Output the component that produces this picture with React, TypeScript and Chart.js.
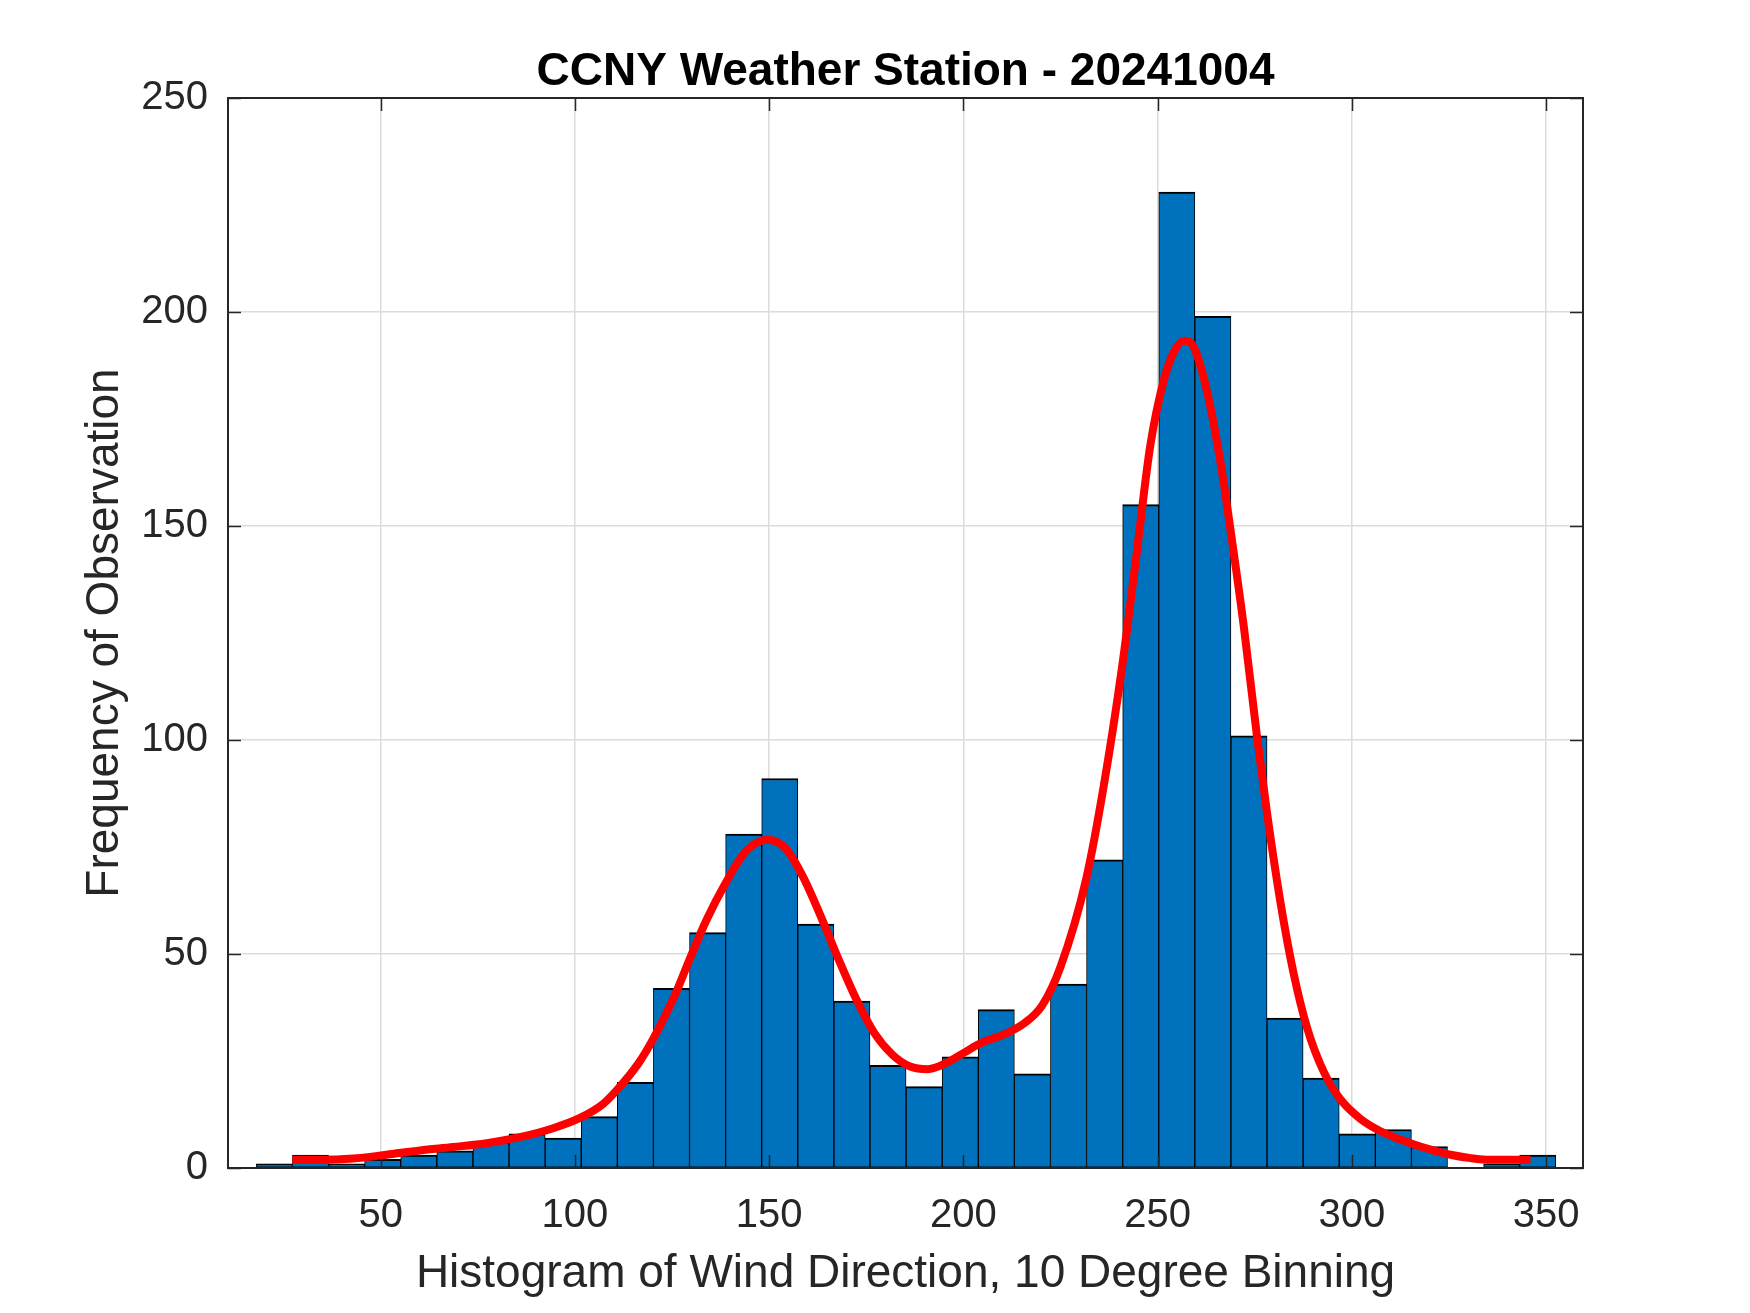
import React, { useEffect, useRef } from "react";
import { Chart, registerables } from "chart.js";

Chart.register(...registerables);

// Histogram bins (centres, degrees) and counts
const binCenters = [
  22.65, 31.94, 41.23, 50.52, 59.81, 69.1, 78.4, 87.69, 96.98, 106.27, 115.56, 124.85,
  134.15, 143.44, 152.73, 162.02, 171.31, 180.6, 189.9, 199.19, 208.48, 217.77, 227.06, 236.35,
  245.65, 254.94, 264.23, 273.52, 282.81, 292.1, 301.4, 310.69, 319.98, 329.27, 338.56, 347.85,
];
const binCounts = [
  1, 3, 1, 2, 3, 4, 6, 8, 7, 12, 20, 42,
  55, 78, 91, 57, 39, 24, 19, 26, 37, 22, 43, 72,
  155, 228, 199, 101, 35, 21, 8, 9, 5, 0, 1, 3,
];

// Smoothed density curve (red)
const fitX = [
  27.3, 34.3, 42.9, 51.5, 60.1, 68.7, 77.3, 85.8, 94.4, 101.3, 107.3, 110.9, 116.4, 120.3,
  125.6, 129.5, 133.9, 138.8, 144.0, 149.5, 154.1, 158.7, 163.3, 167.9, 172.5, 177.1, 181.7,
  186.3, 190.9, 195.5, 200.1, 204.7, 210.2, 215.8, 220.3, 225.0, 231.6, 236.1, 240.9, 244.7,
  248.1, 251.6, 254.1, 256.7, 259.3, 262.7, 266.2, 268.9, 272.2, 275.6, 278.2, 281.6, 285.0,
  288.5, 292.8, 297.1, 302.2, 307.4, 315.1, 320.3, 325.4, 330.6, 335.7, 340.9, 346.0,
];
const fitY = [
  1.9, 1.9, 2.2, 3.1, 4.1, 4.9, 5.8, 7.2, 9.3, 11.7, 15.0, 18.3, 24.5, 30.4,
  40.1, 48.7, 58.0, 66.6, 74.0, 76.7, 74.8, 68.1, 58.8, 48.7, 39.3, 31.5, 26.5,
  23.7, 23.1, 24.5, 26.9, 29.3, 31.1, 33.9, 38.0, 47.0, 67.5, 89.1, 117.4, 144.3,
  168.7, 184.1, 190.5, 193.3, 191.8, 181.5, 164.8, 148.2, 126.4, 100.7, 82.7, 62.2, 45.5,
  32.7, 22.4, 16.0, 11.5, 8.6, 5.8, 4.3, 3.1, 2.3, 1.9, 1.9, 1.9,
];

const xTicks = [50, 100, 150, 200, 250, 300, 350];
const yTicks = [0, 50, 100, 150, 200, 250];
const xRange = [10.7, 359.5];
const yRange = [0, 250];

const titleText = "CCNY Weather Station - 20241004";
const xLabel = "Histogram of Wind Direction, 10 Degree Binning";
const yLabel = "Frequency of Observation";

const FONT = '"Liberation Sans", Arial, Helvetica, sans-serif';
const AXIS_COLOR = "#262626";

const framePlugin = {
  id: "matlabFrame",
  afterDatasetDraw(chart: any, args: any) {
    if (args.index !== 0) return;
    const { ctx, chartArea } = chart;
    const { left, right, top, bottom } = chartArea;
    const xs = chart.scales.x;
    const ys = chart.scales.y;
    const tl = 13;
    ctx.save();
    ctx.strokeStyle = AXIS_COLOR;
    ctx.lineWidth = 1.5;
    ctx.beginPath();
    xTicks.forEach((v) => {
      const px = Math.round(xs.getPixelForValue(v)) + 0.5;
      ctx.moveTo(px, bottom);
      ctx.lineTo(px, bottom - tl);
      ctx.moveTo(px, top);
      ctx.lineTo(px, top + tl);
    });
    yTicks.forEach((v) => {
      const py = Math.round(ys.getPixelForValue(v)) + 0.5;
      ctx.moveTo(left, py);
      ctx.lineTo(left + tl, py);
      ctx.moveTo(right, py);
      ctx.lineTo(right - tl, py);
    });
    ctx.stroke();
    ctx.lineWidth = 2;
    ctx.strokeRect(left, top, right - left, bottom - top);
    ctx.restore();
  },
  afterDraw(chart: any) {
    const { ctx, chartArea } = chart;
    ctx.save();
    ctx.fillStyle = "#000000";
    ctx.font = `bold 46px ${FONT}`;
    ctx.textAlign = "center";
    ctx.textBaseline = "alphabetic";
    ctx.fillText(titleText, (chartArea.left + chartArea.right) / 2, 85);
    ctx.restore();
  },
};

export default function App() {
  const ref = useRef<HTMLCanvasElement>(null);

  useEffect(() => {
    const canvas = ref.current;
    if (!canvas) return;
    const chart = new Chart(canvas, {
      type: "bar",
      data: {
        datasets: [
          {
            type: "bar",
            data: binCenters.map((x, i) => ({ x, y: binCounts[i] })),
            backgroundColor: "#0072BD",
            borderColor: "#000000",
            borderWidth: { top: 2, left: 1, right: 1, bottom: 1 },
            borderSkipped: false,
            barPercentage: 1,
            categoryPercentage: 1,
            order: 1,
          } as any,
          {
            type: "line",
            data: fitX.map((x, i) => ({ x, y: fitY[i] })),
            borderColor: "#FF0000",
            borderWidth: 8,
            pointRadius: 0,
            fill: false,
            cubicInterpolationMode: "monotone",
            borderCapStyle: "butt",
            borderJoinStyle: "round",
            order: 0,
          } as any,
        ],
      },
      options: {
        responsive: false,
        animation: false,
        devicePixelRatio: 1,
        events: [],
        layout: { padding: { left: 0, top: 98, right: 167, bottom: 0 } },
        plugins: {
          legend: { display: false },
          tooltip: { enabled: false },
          title: { display: false },
        },
        scales: {
          x: {
            type: "linear",
            min: xRange[0],
            max: xRange[1],
            offset: false,
            afterBuildTicks: (s: any) => {
              s.ticks = xTicks.map((v) => ({ value: v }));
            },
            afterFit: (s: any) => {
              s.height = 145;
            },
            grid: { color: "#DCDCDC", lineWidth: 1.5, drawTicks: false, offset: false },
            border: { display: false },
            ticks: {
              autoSkip: false,
              maxRotation: 0,
              minRotation: 0,
              padding: 24,
              color: AXIS_COLOR,
              font: { size: 40, family: FONT },
            },
            title: {
              display: true,
              text: xLabel,
              color: AXIS_COLOR,
              font: { size: 46, family: FONT },
              padding: { top: 0, bottom: 11 },
            },
          },
          y: {
            type: "linear",
            min: yRange[0],
            max: yRange[1],
            afterBuildTicks: (s: any) => {
              s.ticks = yTicks.map((v) => ({ value: v }));
            },
            afterFit: (s: any) => {
              s.width = 228;
            },
            grid: { color: "#DCDCDC", lineWidth: 1.5, drawTicks: false },
            border: { display: false },
            ticks: {
              padding: 20,
              color: AXIS_COLOR,
              font: { size: 40, family: FONT },
            },
            title: {
              display: true,
              text: yLabel,
              color: AXIS_COLOR,
              font: { size: 46, family: FONT },
              padding: { top: 78, bottom: 0 },
            },
          },
        },
      } as any,
      plugins: [framePlugin],
    });
    return () => chart.destroy();
  }, []);

  return (
    <div
      style={{
        position: "absolute",
        left: 0,
        top: 0,
        width: 1750,
        height: 1313,
        background: "#ffffff",
      }}
    >
      <canvas ref={ref} width={1750} height={1313} style={{ display: "block" }} />
    </div>
  );
}
